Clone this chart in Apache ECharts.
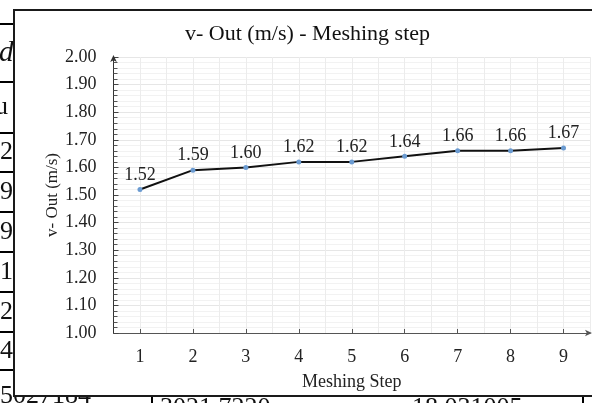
<!DOCTYPE html>
<html>
<head>
<meta charset="utf-8">
<script src="https://cdn.jsdelivr.net/npm/echarts@6/dist/echarts.min.js"></script>
<style>
  html, body { margin: 0; padding: 0; background: #fff; }
  #chart { width: 592px; height: 403px; }
</style>
</head>
<body>
<div id="chart"></div>
<script>
// Outlet velocity for each meshing refinement step
const steps = ['1', '2', '3', '4', '5', '6', '7', '8', '9'];
const vOut = [1.52, 1.59, 1.60, 1.62, 1.62, 1.64, 1.66, 1.66, 1.67];

// Y-axis range and step
const yMin = 1.0;
const yMax = 2.0;
const yStep = 0.1;

// Fragments of the surrounding document table
const tableCells = ['d', 'u', '2', '9.', '9', '1', '2', '4', '5027184'];
const tableRules = [24, 82, 133, 172, 212, 252, 292, 332, 370];
const bottomCells = ['3021.7220', '18.031005'];

const serif = '"Liberation Serif", "Times New Roman", serif';

const chart = echarts.init(document.getElementById('chart'), null, { renderer: 'canvas' });

// table background (behind the chart frame)
const tableGraphics = [];
tableRules.forEach(function (y) {
  tableGraphics.push({
    type: 'line', z: -3,
    shape: { x1: 0, y1: y, x2: 14, y2: y },
    style: { stroke: '#000', lineWidth: 2 }
  });
});
tableCells.forEach(function (t, i) {
  const top = tableRules[i];
  const bottom = i + 1 < tableRules.length ? tableRules[i + 1] : 410;
  tableGraphics.push({
    type: 'text', z: -3,
    x: t === 'u' ? -5 : (t === 'd' ? -1 : 0),
    y: (top + bottom) / 2 + (i === tableCells.length - 1 ? 6 : 0),
    style: {
      text: t,
      font: (t === 'd' ? 'italic 29px ' : '26px ') + serif,
      fill: '#111',
      textVerticalAlign: 'middle'
    }
  });
});
bottomCells.forEach(function (t, i) {
  tableGraphics.push({
    type: 'text', z: -3,
    x: i === 0 ? 160 : 412,
    y: 395,
    style: { text: t, font: '26px ' + serif, fill: '#111' }
  });
});
[152, 583].forEach(function (x) {
  tableGraphics.push({
    type: 'line', z: -3,
    shape: { x1: x, y1: 390, x2: x, y2: 403 },
    style: { stroke: '#000', lineWidth: 2 }
  });
});

// chart frame
tableGraphics.push({
  type: 'rect', z: -1,
  shape: { x: 14, y: 10, width: 582, height: 386 },
  style: { fill: '#fff', stroke: '#1a1a1a', lineWidth: 2 }
});

chart.setOption({
  backgroundColor: '#fff',
  animation: false,
  graphic: tableGraphics,
  title: {
    text: 'v- Out (m/s) - Meshing step',
    left: 180,
    top: 18,
    textStyle: { fontFamily: serif, fontSize: 22, fontWeight: 'normal', color: '#111' }
  },
  grid: { left: 113.5, right: 2, top: 57, bottom: 70 },
  xAxis: [
    {
      type: 'category',
      data: steps,
      boundaryGap: true,
      name: 'Meshing Step',
      nameLocation: 'middle',
      nameGap: 40,
      nameMoveOverlap: false,
      nameTextStyle: { fontFamily: serif, fontSize: 18, color: '#222' },
      axisLine: {
        lineStyle: { color: '#555', width: 1 },
        symbol: ['none', 'arrow'], symbolSize: [5, 7], symbolOffset: [0, 2]
      },
      axisTick: { show: true, inside: true, alignWithLabel: true, length: 4, lineStyle: { color: '#555' } },
      axisLabel: { fontFamily: serif, fontSize: 18, color: '#222', margin: 15 },
      splitLine: { show: false }
    },
    {
      // helper axis for the vertical gridlines at half steps
      type: 'value',
      min: 0.5, max: 9.5, interval: 0.5,
      position: 'bottom',
      show: true,
      axisLine: { show: false },
      axisTick: { show: false },
      axisLabel: { show: false },
      splitLine: { show: true, lineStyle: { color: '#ececec', width: 1 } }
    }
  ],
  yAxis: {
    type: 'value',
    min: yMin, max: yMax, interval: yStep,
    name: 'v- Out (m/s)',
    nameLocation: 'middle',
    nameGap: 52,
    nameMoveOverlap: false,
    nameTextStyle: { fontFamily: serif, fontSize: 17, color: '#222' },
    axisLine: {
      show: true,
      lineStyle: { color: '#333', width: 1 },
      symbol: ['none', 'arrow'], symbolSize: [5, 7], symbolOffset: [0, 2]
    },
    axisTick: { show: true, inside: true, length: 5, lineStyle: { color: '#444' } },
    minorTick: { show: true, splitNumber: 5, length: 4, lineStyle: { color: '#555' } },
    axisLabel: {
      fontFamily: serif, fontSize: 18, color: '#222', margin: 17,
      formatter: function (v) { return v.toFixed(2); }
    },
    splitLine: { show: true, lineStyle: { color: '#e6e6e6', width: 1 } },
    minorSplitLine: { show: true, lineStyle: { color: '#f2f2f2', width: 1 } }
  },
  series: [{
    type: 'line',
    xAxisIndex: 0,
    data: vOut,
    symbol: 'circle',
    symbolSize: 5,
    itemStyle: { color: '#6b9bd1' },
    lineStyle: { color: '#111', width: 2 },
    label: {
      show: true,
      position: 'top',
      distance: 3,
      fontFamily: serif,
      fontSize: 18,
      color: '#222',
      formatter: function (p) { return p.value.toFixed(2); }
    },
    z: 5
  }]
});
</script>
</body>
</html>
